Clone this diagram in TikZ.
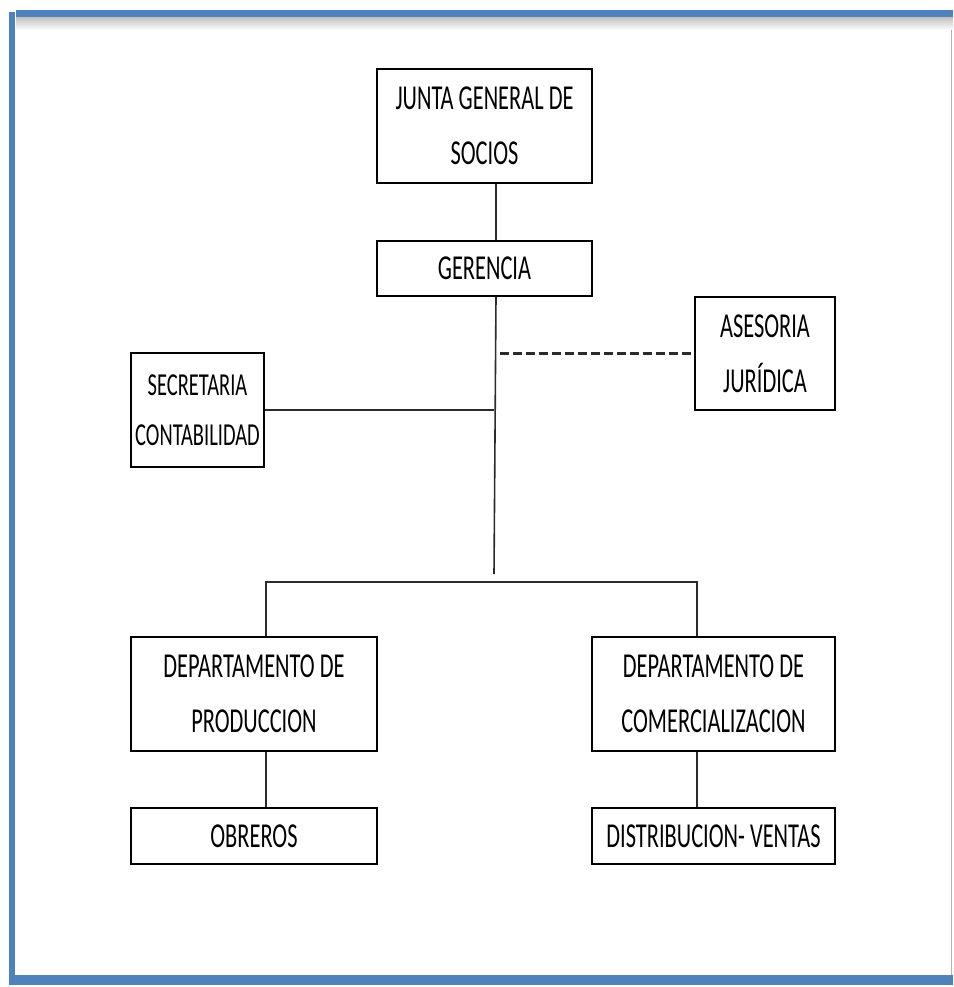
\documentclass[tikz,border=0pt]{standalone}
\usepackage{fontspec}
\setmainfont[FakeStretch=0.64]{Carlito}
\usepackage{tikz}
\usetikzlibrary{positioning}

\definecolor{frameblue}{HTML}{4F81BD}
\definecolor{linegray}{HTML}{2B2B2B}

\tikzset{
  orgbox/.style={draw=black, line width=2pt, fill=white, align=center, inner sep=0pt,
    text=black, font=\fontsize{35}{55}\selectfont},
  link/.style={draw=linegray, line width=1.6pt},
  advice/.style={draw=linegray, line width=2.6pt, dash pattern=on 9pt off 4pt}
}

\begin{document}
\begin{tikzpicture}[x=1pt, y=-1pt]
    \useasboundingbox (0,0) rectangle (953,987);

    % Page frame
    \shade[top color=black!25, bottom color=white] (16,17) rectangle (953,30);
    \fill[frameblue] (16,10) rectangle (953,17);
    \fill[frameblue] (9,12) rectangle (15,985);
    \fill[frameblue] (9,975) rectangle (953,985);
    \draw[black!30, line width=1pt] (951,30) -- (951,975);

    % Top of the organisation
    \node[orgbox, minimum width=215, minimum height=114] (junta) at (484.5,126) {JUNTA GENERAL DE\\SOCIOS};
    \node[orgbox, minimum width=215, minimum height=55] (gerencia) at (484.5,268.5) {GERENCIA};

    % Staff units
    \node[orgbox, minimum width=140, minimum height=113] (asesoria) at (765,353.5) {ASESORIA\\JURÍDICA};
    \node[orgbox, minimum width=133, minimum height=114, text width=133,
      font=\fontsize{32}{50}\selectfont] (secretaria) at (197.5,410) {SECRETARIA\\CONTABILIDAD};

    % Departments
    \node[orgbox, minimum width=246, minimum height=114] (produccion) at (254,694) {DEPARTAMENTO DE\\PRODUCCION};
    \node[orgbox, minimum width=243, minimum height=114] (comercial) at (713.5,694) {DEPARTAMENTO DE\\COMERCIALIZACION};
    \node[orgbox, minimum width=246, minimum height=56] (obreros) at (254,836) {OBREROS};
    \node[orgbox, minimum width=243, minimum height=56] (ventas) at (713.5,836) {DISTRIBUCION- VENTAS};

    % Helper points for the lines
    \coordinate (spine) at (496,0);
    \coordinate (spineend) at (494,574);
    \coordinate (dashstart) at (500,0);
    \coordinate (busL) at (266,582);
    \coordinate (busR) at (697,582);

    % Lines
    \draw[link] (junta.south -| spine) -- (gerencia.north -| spine);
    \draw[link] (gerencia.south -| spine) -- (spineend);
    \draw[link] (secretaria.east) -- (secretaria.east -| spineend);
    \draw[advice] (asesoria.west -| dashstart) -- (asesoria.west);
    \draw[link] (busL |- produccion.north) -- (busL) -- (busR) -- (busR |- comercial.north);
    \draw[link] (produccion.south -| busL) -- (obreros.north -| busL);
    \draw[link] (comercial.south -| busR) -- (ventas.north -| busR);
\end{tikzpicture}
\end{document}
